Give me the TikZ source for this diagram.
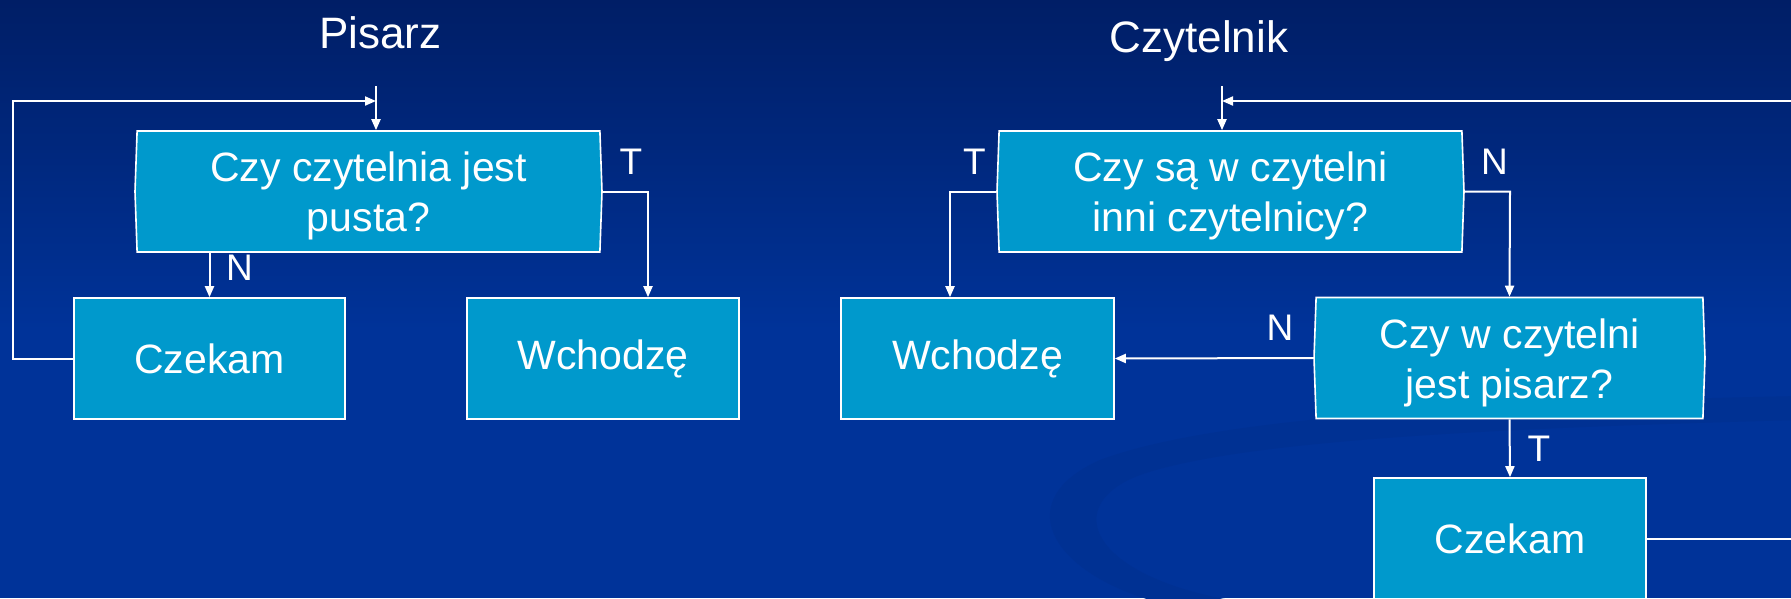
\documentclass[tikz,border=0pt]{standalone}
\usepackage{fontspec}
\setmainfont{Liberation Sans}
\usetikzlibrary{arrows.meta,shapes.symbols,calc}
\definecolor{boxblue}{HTML}{0099CC}
\definecolor{bgtop}{HTML}{001E66}
\definecolor{bgbot}{HTML}{003399}
\definecolor{swoosh}{HTML}{003193}
\newcommand{\twolines}[2]{\raisebox{-5pt}[\height][\depth]{\begin{tabular}{@{}c@{}}#1\\#2\end{tabular}}}
\begin{document}
\begin{tikzpicture}[x=1pt,y=-1pt,
  box/.style={rectangle, draw=white, line width=1.6pt, fill=boxblue, text=white,
    font=\fontsize{41}{50}\selectfont, align=center, minimum height=121pt, inner sep=0pt},
  dec/.style={box, signal, signal to=east and west, signal pointer angle=176},
  title/.style={text=white, font=\fontsize{44}{50}\selectfont, anchor=base, inner sep=0pt},
  lab/.style={text=white, font=\fontsize{37}{40}\selectfont, inner sep=0pt},
  conn/.style={draw=white, line width=2pt},
  arr/.style={conn, -{Triangle[length=11pt,width=9pt]}}
]
\useasboundingbox (0,0) rectangle (1791,598);
\begin{scope}
\clip (0,0) rectangle (1791,598);
% background
\fill[bgbot] (0,0) rectangle (1791,598);
\shade[top color=bgtop, bottom color=bgbot] (0,0) rectangle (1791,330);
\fill[swoosh] (1150,600) .. controls (1050,570) and (1010,500) .. (1100,460)
  .. controls (1220,415) and (1500,402) .. (1800,396) -- (1800,420)
  .. controls (1500,428) and (1240,440) .. (1140,475)
  .. controls (1060,505) and (1090,575) .. (1230,600) -- cycle;

% titles
\node[title] (tp) at (380.5,48.5) {Pisarz};
\node[title] (tc) at (1199,52) {Czytelnik};

% Pisarz
\node[dec, minimum width=467pt] (d1) at (368.5,191.5) {\twolines{Czy czytelnia jest}{pusta?}};
\node[box, minimum width=271pt] (cz1) at (209.5,358.5) {Czekam};
\node[box, minimum width=272pt] (w1) at (603,358.5) {Wchodzę};
\coordinate (in1) at (376,86);
\coordinate (lp1) at (13,101);
\coordinate (t1) at (648,191.5);

\draw[arr] (in1) -- (in1 |- d1.north);
\draw[arr] (cz1.west) -- (lp1 |- cz1.west) -- (lp1) -- (in1 |- lp1);
\draw[arr] (cz1.north |- d1.south) -- (cz1.north);
\draw[arr] (d1.east) -- (t1) -- (t1 |- w1.north);
\node[lab] (lt1) at (631,161.5) {T};
\node[lab] (ln1) at (239.5,267.5) {N};

% Czytelnik
\node[dec, minimum width=467pt] (d2) at (1230.5,191.5) {\twolines{Czy są w czytelni}{inni czytelnicy?}};
\node[box, minimum width=273pt] (w2) at (977.5,358.5) {Wchodzę};
\node[dec, minimum width=391pt] (d3) at (1509.5,358) {\twolines{Czy w czytelni}{jest pisarz?}};
\node[box, minimum width=272pt] (cz2) at (1510,538.5) {Czekam};
\coordinate (in2) at (1222,86);
\coordinate (lp2) at (1830,101);
\coordinate (t2) at (950,191.5);
\coordinate (n2) at (1510,191.5);

\draw[arr] (in2) -- (in2 |- d2.north);
\draw[arr] (cz2.east) -- (lp2 |- cz2.east) -- (lp2) -- (in2 |- lp2);
\draw[arr] (d2.west) -- (t2) -- (t2 |- w2.north);
\draw[arr] (d2.east) -- (n2) -- (d3.north);
\draw[arr] (d3.west) -- (w2.east);
\draw[arr] (d3.south) -- (cz2.north);
\node[lab] (lt2) at (974.5,161.5) {T};
\node[lab] (ln2) at (1494.5,161.5) {N};
\node[lab] (ln3) at (1280,327.5) {N};
\node[lab] (lt3) at (1539,449) {T};
\end{scope}
\end{tikzpicture}
\end{document}
